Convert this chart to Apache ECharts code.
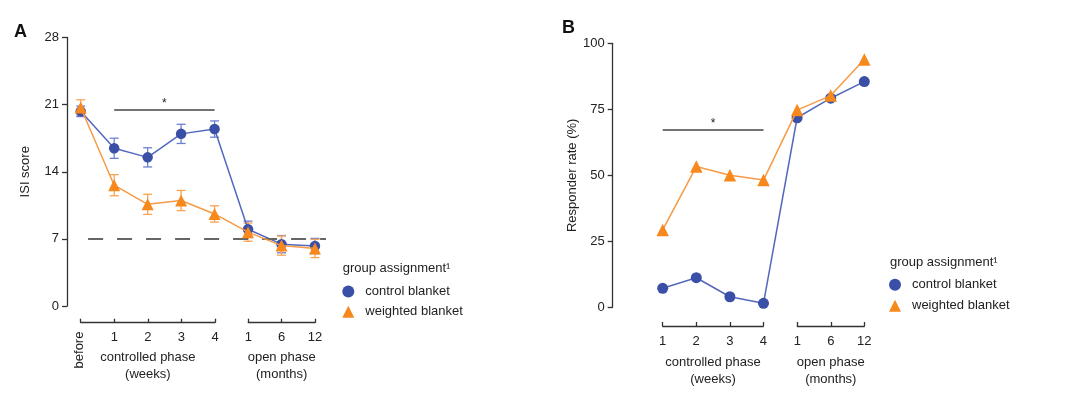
<!DOCTYPE html>
<html>
<head>
<meta charset="utf-8">
<script src="https://cdn.jsdelivr.net/npm/echarts@6/dist/echarts.min.js"></script>
<style>
html,body{margin:0;padding:0;background:#fff;}
#chart{width:1080px;height:394px;}
</style>
</head>
<body>
<div id="chart"></div>
<script>
// ---------- data ----------
var SERIES_NAMES = ['control blanket', 'weighted blanket'];
var LEGEND_TITLE = 'group assignment\u00b9';

// Panel A: ISI score (before, controlled weeks 1-4, open months 1, 6, 12)
var A_CTRL_LABELS = ['before', '1', '2', '3', '4'];
var A_OPEN_LABELS = ['1', '6', '12'];
var A_X = [0, 1, 2, 3, 4, 5, 6, 7];
var CONTROL_ISI = [20.3, 16.45, 15.5, 17.95, 18.45, 8.0, 6.45, 6.25];
var CONTROL_ISI_ERR = [0.55, 1.05, 1.0, 1.0, 0.85, 0.85, 0.9, 0.8];
var WEIGHTED_ISI = [20.7, 12.6, 10.6, 11.0, 9.6, 7.7, 6.3, 6.0];
var WEIGHTED_ISI_ERR = [0.8, 1.1, 1.05, 1.05, 0.85, 0.95, 1.0, 0.95];
var ISI_TICKS = [0, 7, 14, 21, 28];
var ISI_CUTOFF = 7;
var A_SIG_FROM = 1, A_SIG_TO = 4, A_SIG_Y = 20.5;

// Panel B: responder rate (%) (controlled weeks 1-4, open months 1, 6, 12)
var B_CTRL_LABELS = ['1', '2', '3', '4'];
var B_OPEN_LABELS = ['1', '6', '12'];
var B_X = [0, 1, 2, 3, 4, 5, 6];
var CONTROL_RESP = [7.2, 11.2, 4.0, 1.5, 71.8, 79.2, 85.5];
var WEIGHTED_RESP = [29.3, 53.3, 50.0, 48.2, 74.7, 80.2, 93.9];
var RESP_TICKS = [0, 25, 50, 75, 100];
var B_SIG_FROM = 0, B_SIG_TO = 3, B_SIG_Y = 67.4;

// ---------- style ----------
var FONT = '"Liberation Sans", Arial, Helvetica, sans-serif';
var BLUE = '#3a4fa6';
var BLUE_LINE = '#5368bd';
var BLUE_ERR = '#6d80cf';
var ORANGE = '#f7891c';
var ORANGE_LINE = '#f79a45';
var ORANGE_ERR = '#f8a352';
var AXIS = '#333333';
var TXT = '#222222';

function zip(xs, ys) { return xs.map(function (x, i) { return [x, ys[i]]; }); }
function errData(xs, ys, es) { return xs.map(function (x, i) { return [x, ys[i] - es[i], ys[i] + es[i]]; }); }

function errSeries(data, color, xi, yi) {
  return {
    type: 'custom', xAxisIndex: xi, yAxisIndex: yi, clip: false, silent: true, z: 3,
    data: data,
    encode: { x: 0, y: [1, 2] },
    renderItem: function (params, api) {
      var x = api.value(0);
      var lo = api.coord([x, api.value(1)]);
      var hi = api.coord([x, api.value(2)]);
      var w = 4.5;
      var st = { stroke: color, lineWidth: 1.3 };
      return {
        type: 'group',
        children: [
          { type: 'line', shape: { x1: lo[0], y1: lo[1], x2: hi[0], y2: hi[1] }, style: st },
          { type: 'line', shape: { x1: lo[0] - w, y1: lo[1], x2: lo[0] + w, y2: lo[1] }, style: st },
          { type: 'line', shape: { x1: hi[0] - w, y1: hi[1], x2: hi[0] + w, y2: hi[1] }, style: st }
        ]
      };
    }
  };
}

function lineSeries(name, data, sym, size, color, lineColor, xi, yi, z) {
  return {
    name: name, type: 'line', xAxisIndex: xi, yAxisIndex: yi, data: data, clip: false,
    symbol: sym, symbolSize: size, showSymbol: true, z: z,
    itemStyle: { color: color },
    lineStyle: { color: lineColor, width: 1.5 },
    emphasis: { disabled: true }, animation: false
  };
}

function sigLine(from, to, y) {
  return {
    silent: true, symbol: 'none', animation: false,
    lineStyle: { color: '#444', width: 1.5, type: 'solid' },
    label: { show: true, position: 'middle', formatter: '*', color: TXT, fontSize: 12, fontFamily: FONT, distance: 0 },
    data: [[{ coord: [from, y] }, { coord: [to, y] }]]
  };
}

function bracketAxis(gi, n, labels, name, margin, gap, hideFirst) {
  return {
    gridIndex: gi, type: 'value', min: 0, max: n, interval: 1, position: 'bottom',
    axisLine: { show: true, onZero: false, lineStyle: { color: AXIS, width: 1.3 } },
    axisTick: { show: true, inside: true, length: 4, lineStyle: { color: AXIS, width: 1.3 } },
    splitLine: { show: false },
    axisLabel: {
      show: true, margin: margin, color: TXT, fontSize: 13, fontFamily: FONT,
      formatter: function (v) { return (hideFirst && v === 0) ? '' : labels[v]; }
    },
    name: name, nameLocation: 'middle', nameGap: gap,
    nameTextStyle: { color: TXT, fontSize: 13, fontFamily: FONT, lineHeight: 17 }
  };
}

function valueYAxis(gi, ticks, name, gap) {
  return {
    gridIndex: gi, type: 'value', min: ticks[0], max: ticks[ticks.length - 1], interval: ticks[1] - ticks[0],
    axisLine: { show: true, onZero: false, lineStyle: { color: AXIS, width: 1.3 } },
    axisTick: { show: true, length: 5, lineStyle: { color: AXIS, width: 1.3 } },
    splitLine: { show: false },
    axisLabel: { color: TXT, fontSize: 13, fontFamily: FONT, margin: 8 },
    name: name, nameLocation: 'middle', nameGap: gap, nameRotate: 90,
    nameTextStyle: { color: TXT, fontSize: 13, fontFamily: FONT }
  };
}

var hiddenY = function (gi) { return { gridIndex: gi, type: 'value', show: false, min: 0, max: 1 }; };

function legendAt(left, top, gap) {
  return {
    orient: 'vertical', left: left, top: top, padding: 0, itemWidth: 12, itemHeight: 12, itemGap: gap,
    textStyle: { color: TXT, fontSize: 13, fontFamily: FONT, padding: [0, 0, 0, 6] },
    data: [{ name: SERIES_NAMES[0], icon: 'circle' }, { name: SERIES_NAMES[1], icon: 'triangle' }],
    selectedMode: false
  };
}

var option = {
  animation: false,
  backgroundColor: '#ffffff',
  textStyle: { fontFamily: FONT },
  grid: [
    { left: 67, top: 37.5, width: 259, height: 268.5 },          // 0: A main
    { left: 80.7, top: 300, width: 134.3, height: 22.7 },        // 1: A controlled bracket
    { left: 248.3, top: 300, width: 66.7, height: 22.7 },        // 2: A open bracket
    { left: 612.7, top: 43.3, width: 260, height: 264 },         // 3: B main
    { left: 662.7, top: 300, width: 100.6, height: 26 },         // 4: B controlled bracket
    { left: 797.3, top: 300, width: 67, height: 26 }             // 5: B open bracket
  ],
  xAxis: [
    { gridIndex: 0, type: 'value', min: -0.41, max: 7.33, show: false },
    bracketAxis(1, 4, A_CTRL_LABELS, 'controlled phase\n(weeks)', 8, 26, true),
    bracketAxis(2, 2, A_OPEN_LABELS, 'open phase\n(months)', 8, 26, false),
    { gridIndex: 3, type: 'value', min: -1.488, max: 6.25, show: false },
    bracketAxis(4, 3, B_CTRL_LABELS, 'controlled phase\n(weeks)', 9, 27.5, false),
    bracketAxis(5, 2, B_OPEN_LABELS, 'open phase\n(months)', 9, 27.5, false)
  ],
  yAxis: [
    valueYAxis(0, ISI_TICKS, 'ISI score', 35),
    hiddenY(1), hiddenY(2),
    valueYAxis(3, RESP_TICKS, 'Responder rate (%)', 31),
    hiddenY(4), hiddenY(5)
  ],
  legend: [
    legendAt(342.3, 285, 7.2),
    legendAt(889, 278.3, 8.0)
  ],
  graphic: [
    { type: 'text', left: 14, top: 23, style: { text: 'A', font: 'bold 18px ' + FONT, fill: '#111' } },
    { type: 'text', left: 562, top: 19, style: { text: 'B', font: 'bold 18px ' + FONT, fill: '#111' } },
    { type: 'text', x: 342.7, y: 268.3, style: { text: LEGEND_TITLE, font: '13px ' + FONT, fill: TXT, verticalAlign: 'middle' } },
    { type: 'text', x: 890, y: 262.3, style: { text: LEGEND_TITLE, font: '13px ' + FONT, fill: TXT, verticalAlign: 'middle' } },
    { type: 'text', x: 79.5, y: 350, rotation: Math.PI / 2, style: { text: A_CTRL_LABELS[0], font: '13px ' + FONT, fill: TXT, align: 'center', verticalAlign: 'middle' } }
  ],
  series: [
    // Panel A
    {
      type: 'line', xAxisIndex: 0, yAxisIndex: 0, data: [], silent: true,
      markLine: {
        silent: true, symbol: 'none', animation: false, label: { show: false },
        lineStyle: { color: '#666', width: 2, type: [15, 14] },
        data: [[{ coord: [0.22, ISI_CUTOFF] }, { coord: [7.33, ISI_CUTOFF] }]]
      }
    },
    errSeries(errData(A_X, CONTROL_ISI, CONTROL_ISI_ERR), BLUE_ERR, 0, 0),
    lineSeries(SERIES_NAMES[0], zip(A_X, CONTROL_ISI), 'circle', 10.5, BLUE, BLUE_LINE, 0, 0, 4),
    errSeries(errData(A_X, WEIGHTED_ISI, WEIGHTED_ISI_ERR), ORANGE_ERR, 0, 0),
    (function () {
      var s = lineSeries(SERIES_NAMES[1], zip(A_X, WEIGHTED_ISI), 'triangle', 12, ORANGE, ORANGE_LINE, 0, 0, 5);
      s.markLine = sigLine(A_SIG_FROM, A_SIG_TO, A_SIG_Y);
      return s;
    })(),
    // Panel B
    lineSeries(SERIES_NAMES[0], zip(B_X, CONTROL_RESP), 'circle', 11, BLUE, BLUE_LINE, 3, 3, 4),
    (function () {
      var s = lineSeries(SERIES_NAMES[1], zip(B_X, WEIGHTED_RESP), 'triangle', 12.5, ORANGE, ORANGE_LINE, 3, 3, 5);
      s.markLine = sigLine(B_SIG_FROM, B_SIG_TO, B_SIG_Y);
      return s;
    })()
  ]
};

var chart = echarts.init(document.getElementById('chart'), null, { renderer: 'canvas' });
chart.setOption(option);
</script>
</body>
</html>
